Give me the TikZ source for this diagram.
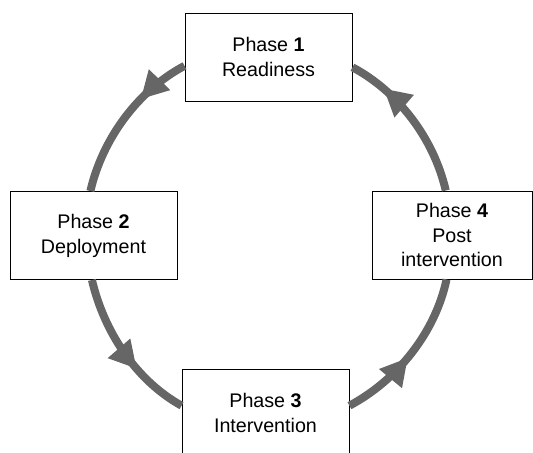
\documentclass[tikz,border=0pt]{standalone}
\usepackage{fontspec}
\setmainfont{Liberation Sans}
\usetikzlibrary{arrows.meta,decorations.markings}
\definecolor{arcgray}{RGB}{102,102,102}
\tikzset{
  phase/.style={draw=black, line width=0.8pt, fill=white, align=center, inner sep=0pt,
    minimum width=5.01cm, minimum height=2.64cm, font=\fontsize{16.8}{21.3}\selectfont},
  flow/.style={draw=arcgray, line width=0.24cm, looseness=0.87, postaction={decorate},
    decoration={markings, mark=at position #1 with
      {\arrow[color=arcgray]{Triangle[length=0.8cm,width=0.9cm,line width=0pt]}}}}
}
\begin{document}
\begin{tikzpicture}
    \useasboundingbox (0,0) rectangle (15.99,13.56);
      \node[phase] (p1) at (8.055,11.85) {Phase \textbf{1}\\Readiness};
      \node[phase] (p2) at (2.805,6.495) {Phase \textbf{2}\\Deployment};
      \node[phase] (p3) at (7.965,1.17) {Phase \textbf{3}\\Intervention};
      \node[phase, minimum width=4.8cm] (p4) at (13.56,6.51) {Phase \textbf{4}\\Post\\intervention};
      \draw[flow=0.34] (p1.186) to[out=208,in=77] (p2.94);
      \draw[flow=0.63] (p2.268) to[out=283,in=151] (p3.175);
      \draw[flow=0.46] (p3.5) to[out=28,in=258] (p4.263);
      \draw[flow=0.76] (p4.98) to[out=103,in=332] (p1.353);
\end{tikzpicture}
\end{document}
